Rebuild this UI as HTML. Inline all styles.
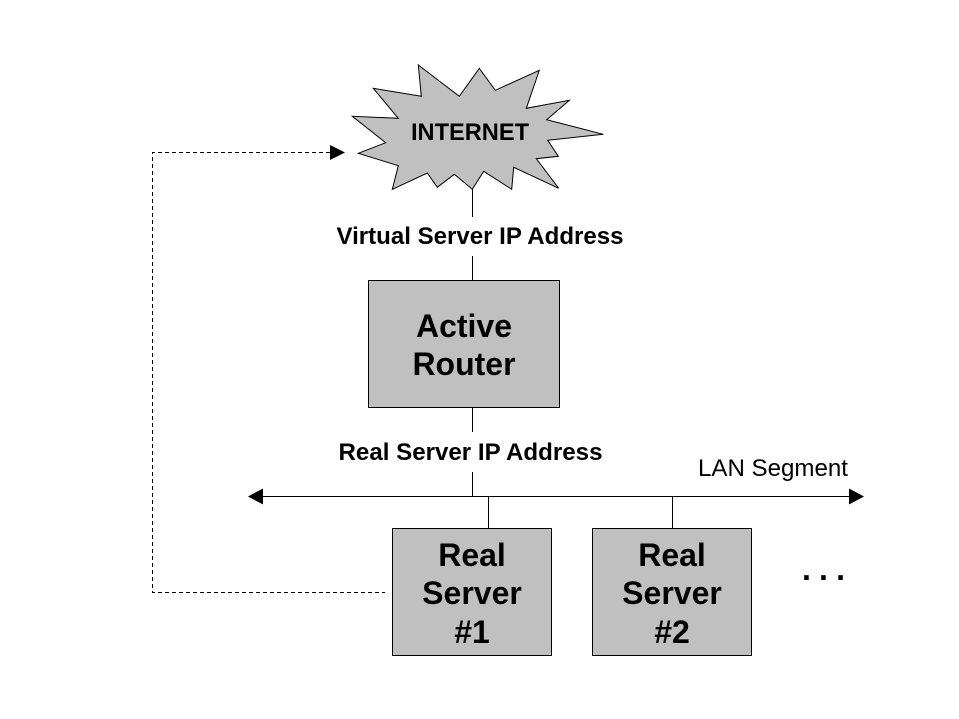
<!DOCTYPE html>
<html>
<head>
<meta charset="utf-8">
<style>
html,body{margin:0;padding:0;background:#fff;width:959px;height:719px;overflow:hidden}
svg{display:block}
text{font-family:"Liberation Sans",Arial,sans-serif;fill:#000}
.b{font-weight:bold}
.l{shape-rendering:crispEdges}
</style>
</head>
<body>
<svg width="959" height="719" viewBox="0 0 959 719" xmlns="http://www.w3.org/2000/svg">
<rect width="959" height="719" fill="#fff"/>
<polygon points="418.3,65 459.3,96.3 479.3,68.3 495.3,90.3 539.3,70.3 526.3,108.3 569.3,100.3 546.7,119.7 603.3,134.3 547.7,140.3 558.3,156.3 536.3,158.7 558.7,188.3 513.7,167.3 511.7,189.3 483.7,171.3 472.3,189.3 454.3,174.3 437.3,187.3 427.3,173 392.3,189.3 398.3,165.7 358.3,153.3 385.7,142.7 352.3,116.3 398.3,118.3 373.3,88.3 421.3,96.3" fill="#c0c0c0" stroke="#000" stroke-width="1"/>
<text class="b" x="411" y="140" font-size="24" textLength="118" lengthAdjust="spacingAndGlyphs">INTERNET</text>

<g class="l" stroke="#000" stroke-width="1" fill="none">
<path d="M472.5 189V217M472.5 256V280M472.5 407V432M472.5 472V496M488.5 496V528M672.5 496V528"/>
<path d="M262 496.5H850"/>
<path d="M330 152.5H152.5V592.5H385" stroke-dasharray="4 3"/>
<rect x="368.5" y="280.5" width="191" height="127" fill="#c0c0c0"/>
<rect x="392.5" y="528.5" width="159" height="127" fill="#c0c0c0"/>
<rect x="592.5" y="528.5" width="159" height="127" fill="#c0c0c0"/>
</g>

<polygon points="248,496.5 263,488.5 263,504.5" fill="#000"/>
<polygon points="864,496.5 849,488.5 849,504.5" fill="#000"/>
<polygon points="345,152.5 330,145 330,160" fill="#000"/>

<text class="b" x="480" y="244" font-size="24" text-anchor="middle" textLength="287" lengthAdjust="spacingAndGlyphs">Virtual Server IP Address</text>
<text class="b" x="470.5" y="460" font-size="24" text-anchor="middle" textLength="264" lengthAdjust="spacingAndGlyphs">Real Server IP Address</text>
<text x="698" y="476" font-size="24" textLength="150" lengthAdjust="spacingAndGlyphs">LAN Segment</text>

<g class="b" font-size="32" text-anchor="middle">
<text class="b" x="464" y="337">Active</text>
<text class="b" x="464" y="375">Router</text>
<text class="b" x="472" y="566">Real</text>
<text class="b" x="472" y="604">Server</text>
<text class="b" x="472" y="643">#1</text>
<text class="b" x="672" y="566">Real</text>
<text class="b" x="672" y="604">Server</text>
<text class="b" x="672" y="643">#2</text>
</g>
<text class="b" x="802" y="580" font-size="32" textLength="43" lengthAdjust="spacing">. . .</text>
</svg>
</body>
</html>
